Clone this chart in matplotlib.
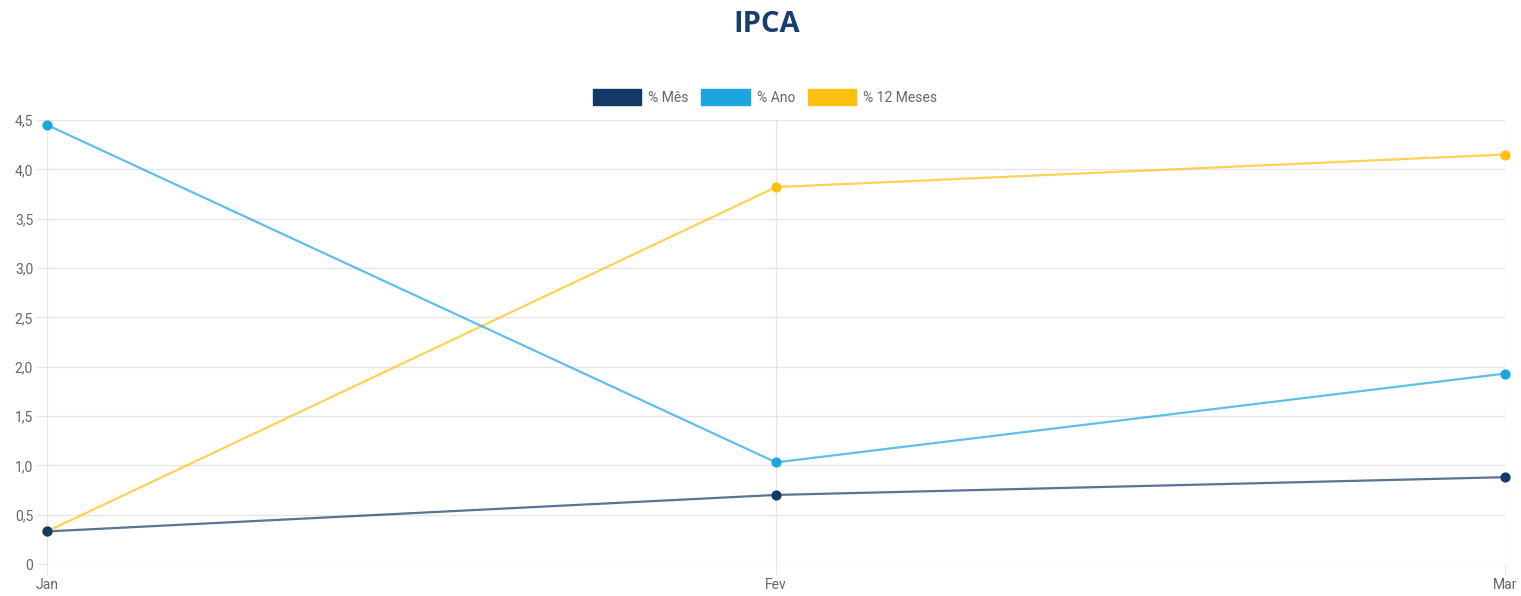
import matplotlib
matplotlib.use("Agg")
import matplotlib.pyplot as plt
from matplotlib.patches import Patch
from matplotlib.ticker import FuncFormatter

meses = ["Jan", "Fev", "Mar"]
mes = [0.33, 0.70, 0.88]
ano = [4.45, 1.03, 1.93]
doze_meses = [0.33, 3.82, 4.15]
y_ticks = [0, 0.5, 1.0, 1.5, 2.0, 2.5, 3.0, 3.5, 4.0, 4.5]

cores = {"% Mês": "#133a66", "% Ano": "#1da5df", "% 12 Meses": "#fdbf10"}

fig = plt.figure(figsize=(15.21, 5.96), dpi=100)
ax = fig.add_axes([47 / 1521, 1 - 564 / 596, (1505 - 47) / 1521, (564 - 120) / 596])

x = list(range(len(meses)))
series = [("% Mês", mes), ("% Ano", ano), ("% 12 Meses", doze_meses)]
for nome, vals in series[::-1]:
    c = cores[nome]
    ax.plot(x, vals, color=c, lw=1.6, alpha=0.7, zorder=3)
    ax.scatter(x, vals, s=40, color=c, zorder=4, clip_on=False)

ax.set_xlim(0, len(meses) - 1)
ax.set_ylim(0, 4.5)
ax.set_yticks(y_ticks)
ax.yaxis.set_major_formatter(FuncFormatter(lambda v, p: "0" if v == 0 else f"{v:.1f}".replace(".", ",")))
ax.set_xticks(x)
ax.set_xticklabels(meses)

ax.grid(True, color="#e6e6e6", lw=1)
ax.set_axisbelow(True)
for s in ax.spines.values():
    s.set_visible(False)
ax.tick_params(axis="y", length=8, color="#e6e6e6", labelcolor="#666666", labelsize=10, pad=2)
ax.tick_params(axis="x", length=8, color="#e6e6e6", labelcolor="#666666", labelsize=10, pad=2)
for lab in ax.get_xticklabels() + ax.get_yticklabels():
    lab.set_family("Roboto")

handles = [Patch(facecolor=cores[n], edgecolor=cores[n], label=n) for n, _ in series]
fig.legend(handles=handles, loc="center", bbox_to_anchor=(765 / 1521, 1 - 97 / 596), ncol=3,
           frameon=False, handlelength=3.5, handleheight=1.3, handletextpad=0.5, columnspacing=0.9,
           prop={"family": "Roboto", "size": 10}, labelcolor="#666666")

fig.text(767 / 1521, 1 - 24 / 596, "IPCA", ha="center", va="center", fontsize=21,
         fontweight="bold", color="#173e6c", family="Open Sans")

fig.savefig("out.png", dpi=100, facecolor="white")
